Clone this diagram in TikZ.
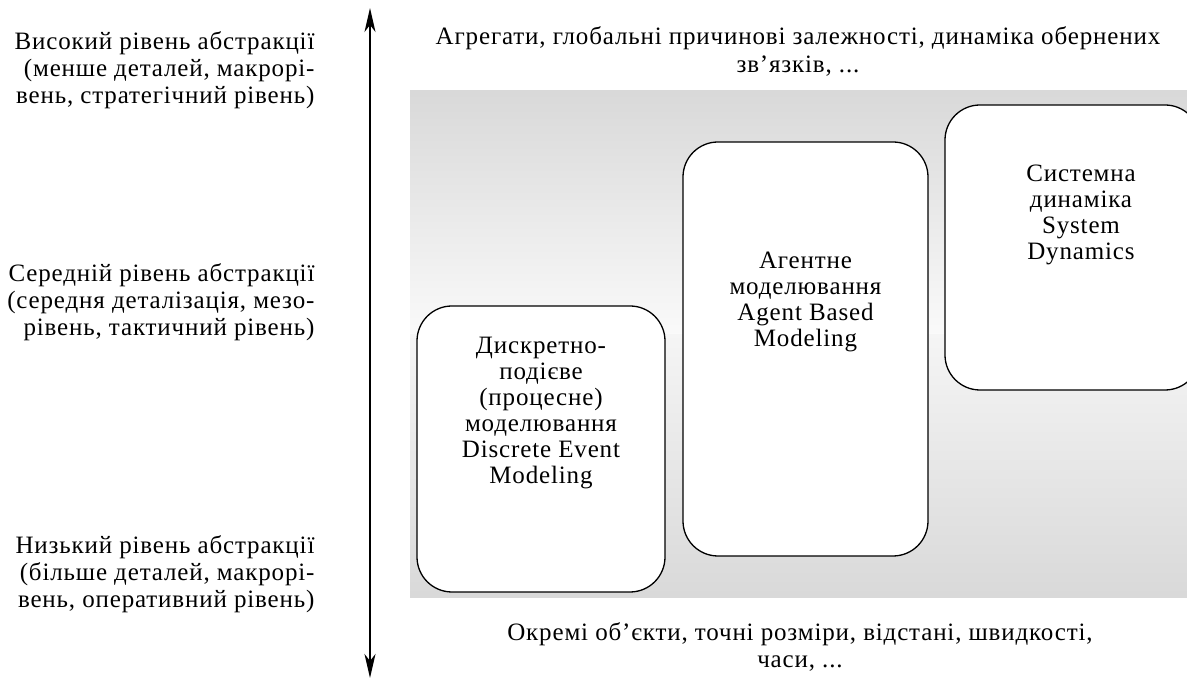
\documentclass[tikz,border=0pt]{standalone}
\usepackage{fontspec}
\setmainfont{Liberation Serif}[LetterSpace=3.4]
\usetikzlibrary{arrows.meta}

\begin{document}
\begin{tikzpicture}[x=1pt,y=1pt]
	\tikzstyle{es} = [{Stealth[length=24pt,width=11pt,inset=7pt]}-{Stealth[length=24pt,width=11pt,inset=7pt]}, line width=2pt]
	\tikzstyle{bx} = [draw, line width=1.3pt, rounded corners=35pt, fill=white, inner sep=0pt]
	\tikzstyle{tx} = [align=center, font=\fontsize{25}{26}\selectfont]
	\tikzstyle{lv} = [align=right, anchor=east, font=\fontsize{25}{27}\selectfont]
	\useasboundingbox (0,0) rectangle (1187,684);
	% background
	\shade [top color=black!15, bottom color=black!2] (410,349) rectangle (1187,593);
	\shade [top color=black!4, bottom color=black!15] (410,86) rectangle (1187,349);
	% boxes
	\node [bx, minimum width=248pt, minimum height=286pt] (b1) at (541,235) {};
	\node [bx, minimum width=245pt, minimum height=414pt] (b2) at (805.5,335) {};
	\node [bx, minimum width=255pt, minimum height=285pt] (b3) at (1072.5,436.5) {};
	\node [tx] (t1) at (541,271) {Дискретно-\\подієве\\(процесне)\\моделювання\\Discrete Event\\Modeling};
	\node [tx] (t2) at (805.5,382) {Агентне\\моделювання\\Agent Based\\Modeling};
	\node [tx] (t3) at (1081,469) {Системна\\динаміка\\System\\Dynamics};
	% axis
	\coordinate (top) at (370,676);
	\coordinate (bot) at (370,6);
	\draw [es] (bot) -- (top);
	\node [lv] (l1) at (318,614) {Високий рівень абстракції\\(менше деталей, макрорі-\\вень, стратегічний рівень)};
	\node [lv] (l2) at (318,382) {Середній рівень абстракції\\(середня деталізація, мезо-\\рівень, тактичний рівень)};
	\node [lv] (l3) at (318,110) {Низький рівень абстракції\\(більше деталей, макрорі-\\вень, оперативний рівень)};
	\node [tx, font=\fontsize{25}{28}\selectfont] (hi) at (798,633) {Агрегати, глобальні причинові залежності, динаміка обернених\\зв’язків, ...};
	\node [tx, font=\fontsize{25}{27}\selectfont] (lo) at (800,37) {Окремі об’єкти, точні розміри, відстані, швидкості,\\часи, ...};
\end{tikzpicture}
\end{document}
